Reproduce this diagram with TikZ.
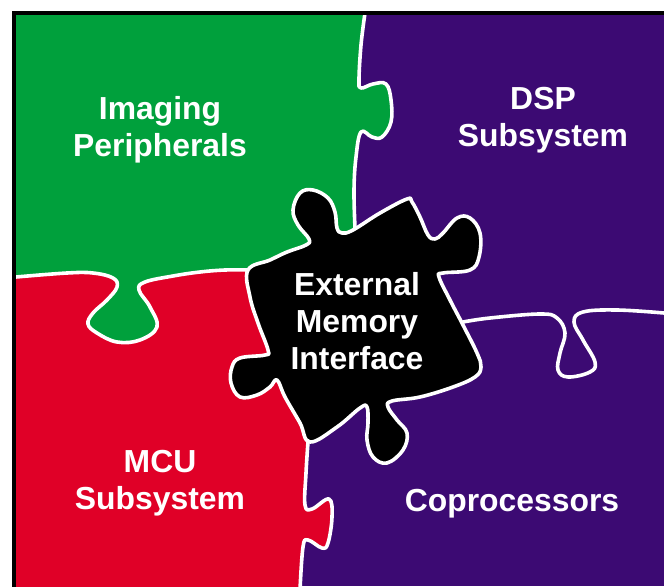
\documentclass[tikz,border=0pt]{standalone}
\usepackage{fontspec}
\setmainfont{Liberation Sans}
\definecolor{pgreen}{HTML}{00A03C}
\definecolor{pred}{HTML}{E00027}
\definecolor{ppurple}{HTML}{3C0A73}
\tikzset{
  seam/.style={draw=white,line width=2.7pt,line join=round,line cap=round},
  label/.style={text=white,font=\fontsize{23.9pt}{27.75pt}\selectfont\bfseries,align=center,inner sep=0pt},
  blob/.style={fill=black,draw=white,line width=2.7pt,line join=round},
  smoothy/.style={smooth,tension=0.65}
}
\begin{document}
\begin{tikzpicture}[x=0.75pt,y=-0.75pt]
\useasboundingbox (0,0) rectangle (664,586);
\begin{scope}
\clip (0,0) rectangle (664,586);
\fill[ppurple] (14,12) rectangle (664,586);
\fill[pgreen] (14,12) -- (365,12) -- plot[smoothy] coordinates {(365,13)(361,45)(359,80)(361,88)(373,84)(386,84)(391,100)(391,122)(382,137)(372,137)(361,132)(356,157)(354,190)(355,228)} -- (370,260) -- (250,350) -- (14,350) -- cycle;
\fill[pred] plot[smoothy] coordinates {(16,277)(67,273)(93,273)(113,278)(117,287)(107,300)(93,313)(88,324)(97,333)(117,342)(140,340)(157,327)(150,307)(139,290)(145,282)(173,276)(200,272)(225,270)(248,270)} -- (320,330) -- (320,430) -- plot[smoothy] coordinates {(308,442)(306,473)(305,505)(312,509)(329,499)(332,517)(328,543)(322,548)(308,540)(303,547)(300,590)} -- (14,590) -- (14,277) -- cycle;
\path[seam] plot[smoothy] coordinates {(365,13)(361,45)(359,80)(361,88)(373,84)(386,84)(391,100)(391,122)(382,137)(372,137)(361,132)(356,157)(354,190)(355,228)};
\path[seam] plot[smoothy] coordinates {(16,277)(67,273)(93,273)(113,278)(117,287)(107,300)(93,313)(88,324)(97,333)(117,342)(140,340)(157,327)(150,307)(139,290)(145,282)(173,276)(200,272)(225,270)(248,270)};
\path[seam] plot[smoothy] coordinates {(463,322)(490,318)(540,314)(557,318)(565,333)(560,353)(558,370)(568,377)(590,372)(595,362)(583,340)(574,322)(583,312)(617,310)(664,313)};
\path[seam] plot[smoothy] coordinates {(308,442)(306,473)(305,505)(312,509)(329,499)(332,517)(328,543)(322,548)(308,540)(303,547)(300,590)};
\path[blob] plot[smooth cycle,tension=0.65] coordinates {
(248,270)(270,260)(287,252)(306,245)(309,239)(298,225)(293,210)(300,193)(313,190)(328,198)(335,212)(337,228)(342,233)(353,230)(380,213)(407,199)(412,202)(420,217)(428,235)(435,239)(443,233)(457,218)(470,218)(480,233)(479,257)(470,270)(443,273)(439,277)(450,300)(463,325)(477,353)(481,367)(475,377)(453,387)(420,397)(392,401)(388,407)(397,420)(407,433)(403,450)(387,463)(373,457)(367,440)(368,423)(367,407)(360,408)(337,427)(310,442)(300,423)(285,397)(277,380)(270,387)(257,395)(240,397)(231,383)(232,367)(240,358)(265,355)(268,350)(258,323)(250,297)};
\draw[black,line width=3pt] (13.5,590) -- (13.5,12.5) -- (670,12.5);
\end{scope}
\node[label] (imaging) at (160,129.5) {Imaging\\Peripherals};
\node[label] (dsp) at (543,120.5) {DSP\\Subsystem};
\node[label] (emi) at (357,321.5) {External\\Memory\\Interface};
\node[label] (mcu) at (160,483.5) {MCU\\Subsystem};
\node[label] (cop) at (512,503.5) {Coprocessors};
\end{tikzpicture}
\end{document}
